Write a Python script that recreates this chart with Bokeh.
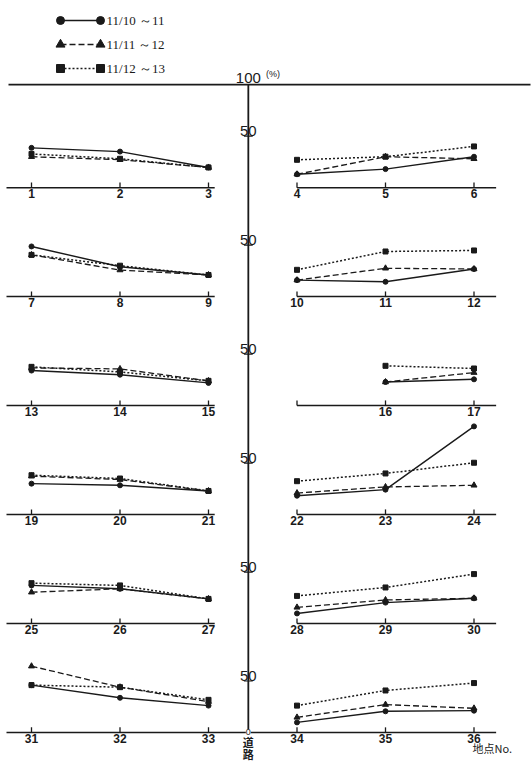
from bokeh.plotting import figure
from bokeh.models import Range1d
from bokeh.core.properties import value
from bokeh.embed import file_html
from bokeh.resources import INLINE

# ---------------- data ----------------
series_names = ["11/10 ～11", "11/11 ～12", "11/12 ～13"]
# site numbers by row (top -> bottom); left panel and right panel, 3 slots each
left_sites = [[1, 2, 3], [7, 8, 9], [13, 14, 15], [19, 20, 21], [25, 26, 27], [31, 32, 33]]
right_sites = [[4, 5, 6], [10, 11, 12], [None, 16, 17], [22, 23, 24], [28, 29, 30], [34, 35, 36]]

site_no = [1, 2, 3, 4, 5, 6, 7, 8, 9, 10, 11, 12, 13, 14, 15, 16, 17,
           19, 20, 21, 22, 23, 24, 25, 26, 27, 28, 29, 30, 31, 32, 33, 34, 35, 36]
pct_1110 = [38.6, 35.0, 19.6, 13.0, 18.0, 30.0, 48.7, 29.0, 21.0, 16.0, 14.4, 26.8,
            34.0, 30.0, 22.0, 22.9, 25.5, 30.0, 28.4, 22.9, 18.3, 24.2, 85.6,
            37.0, 33.7, 23.9, 9.8, 20.3, 24.5, 46.0, 33.7, 26.1, 9.8, 20.6, 21.2]
pct_1111 = [30.0, 27.1, 19.6, 13.0, 30.0, 28.0, 40.5, 25.8, 21.0, 16.0, 27.5, 26.8,
            36.6, 35.6, 24.0, 22.9, 32.0, 37.3, 34.0, 22.9, 20.9, 26.8, 28.4,
            30.4, 33.7, 23.9, 15.7, 22.9, 24.5, 64.4, 44.0, 30.0, 14.7, 27.1, 23.5]
pct_1112 = [32.7, 28.0, 19.6, 27.0, 30.0, 40.0, 40.5, 30.0, 21.0, 26.0, 43.8, 44.8,
            37.6, 32.7, 24.0, 38.6, 36.0, 38.2, 35.0, 22.9, 32.4, 39.9, 50.3,
            39.2, 37.0, 23.9, 26.8, 35.0, 48.0, 46.0, 44.0, 31.7, 26.1, 40.8, 48.0]
axis_labels = ["0", "50", "100"]

# ---------------- layout ----------------
W, H = 532, 765
PX_X = 88.5          # px per slot
X0 = -31 / PX_X      # data x at left edge
XC = 2.45            # central axis
PX_Y = 1.03          # px per percent
ROW_STEP = 105.8     # percent units between row baselines
INK = "#1a1a1a"


def xd(px):
    return X0 + px / PX_X


def yd(px):
    return (732 - px) / PX_Y


p = figure(width=W, height=H, x_range=Range1d(X0, X0 + W / PX_X),
           y_range=Range1d(yd(H), yd(0)), output_backend="svg",
           toolbar_location=None, min_border=0, x_axis_location=None,
           y_axis_location=None, outline_line_color=None,
           background_fill_color="white", border_fill_color="white")
p.xgrid.visible = False
p.ygrid.visible = False

nrows = len(left_sites)
bases = [(nrows - 1 - r) * ROW_STEP for r in range(nrows)]
lookup = {s: i for i, s in enumerate(site_no)}

# top 100% line and central axis
top = bases[0] + 100
p.segment(x0=[xd(8)], y0=[top], x1=[xd(530)], y1=[top], line_color=INK, line_width=1.6)
p.segment(x0=[XC], y0=[0], x1=[XC], y1=[top], line_color=INK, line_width=1.8)
p.text(x=[XC], y=[top + 1.5], text=[axis_labels[2]], text_align="center",
       text_baseline="bottom", text_font=value("Liberation Sans"),
       text_font_size="15px", text_color=INK)
p.text(x=[XC + 0.2], y=[top + 5], text=["(%)"], text_align="left",
       text_baseline="bottom", text_font=value("Liberation Sans"),
       text_font_size="9px", text_color=INK)

panels = []
for r in range(nrows):
    panels.append((r, [0, 1, 2], left_sites[r]))
    panels.append((r, [3, 4, 5], right_sites[r]))

# baselines, ticks, labels
for r in range(nrows):
    b = bases[r]
    if r == nrows - 1:
        p.segment(x0=[xd(6)], y0=[b], x1=[5.25], y1=[b], line_color=INK, line_width=1.5)
    else:
        p.segment(x0=[xd(6), 3.0], y0=[b, b], x1=[2.07, 5.25], y1=[b, b],
                  line_color=INK, line_width=1.5)
    p.text(x=[XC], y=[b + 50], text=[axis_labels[1]], text_align="center",
           text_baseline="bottom", text_font=value("Liberation Sans"),
           text_font_size="15px", text_color=INK)
    p.segment(x0=[XC - 0.05], y0=[b + 50], x1=[XC + 0.05], y1=[b + 50],
              line_color=INK, line_width=1.2)

for r, slots, sites in panels:
    b = bases[r]
    p.segment(x0=slots, y0=[b] * 3, x1=slots, y1=[b + 5] * 3, line_color=INK, line_width=1.3)
    lx = [x for x, s in zip(slots, sites) if s is not None]
    lt = [str(s) for s in sites if s is not None]
    p.text(x=lx, y=[b - 1.5] * len(lx), text=lt, text_align="center",
           text_baseline="top", text_font=value("Liberation Sans"),
           text_font_size="12px", text_font_style="bold", text_color=INK)

# series
styles = [
    dict(vals=pct_1110, dash="solid", width=1.4, marker="circle", size=5),
    dict(vals=pct_1111, dash="6 3", width=1.3, marker="triangle", size=6),
    dict(vals=pct_1112, dash="2 2", width=1.5, marker="square", size=5),
]
for st in styles:
    xs_all, ys_all, mx, my = [], [], [], []
    for r, slots, sites in panels:
        xs = [x for x, s in zip(slots, sites) if s is not None]
        ys = [st["vals"][lookup[s]] + bases[r] for s in sites if s is not None]
        xs_all.append(xs)
        ys_all.append(ys)
        mx += xs
        my += ys
    p.multi_line(xs=xs_all, ys=ys_all, line_color=INK, line_width=st["width"],
                 line_dash=st["dash"])
    p.scatter(x=mx, y=my, marker=st["marker"], size=st["size"],
              fill_color=INK, line_color=INK)

# bottom annotations
p.text(x=[XC], y=[0.5], text=[axis_labels[0]], text_align="center",
       text_baseline="middle", text_font=value("Liberation Sans"),
       text_font_size="9px", text_color=INK, background_fill_color="white")
p.text(x=[XC, XC], y=[yd(741), yd(753)], text=["道", "路"], text_align="center",
       text_baseline="middle", text_font=value("Noto Sans CJK JP"),
       text_font_size="11px", text_font_style="bold", text_color=INK)
p.text(x=[xd(472)], y=[yd(747)], text=["地点No."], text_align="left",
       text_baseline="middle", text_font=value("Noto Sans CJK JP"),
       text_font_size="11px", text_color=INK)

# legend
leg_y = [20, 44, 68]
for st, name, ly in zip(styles, series_names, leg_y):
    y = yd(ly)
    p.line(x=[xd(60), xd(100)], y=[y, y], line_color=INK, line_width=st["width"],
           line_dash=st["dash"])
    p.scatter(x=[xd(60), xd(100)], y=[y, y], marker=st["marker"], size=st["size"] + 3,
              fill_color=INK, line_color=INK)
    p.text(x=[xd(106)], y=[y], text=[name], text_align="left", text_baseline="middle",
           text_font=value("Liberation Serif"), text_font_size="13px", text_color=INK)

open("out.html", "w").write(file_html(p, INLINE))
